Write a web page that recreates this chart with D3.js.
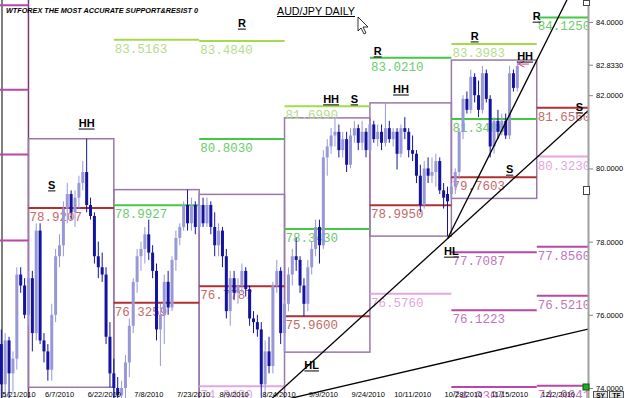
<!DOCTYPE html>
<html>
<head>
<meta charset="utf-8">
<script src="https://cdn.jsdelivr.net/npm/d3@7"></script>
<style>
body { margin: 0; background: #fff; }
svg { display: block; }
</style>
</head>
<body>
<div id="content"></div>
<script>
// AUD/JPY daily candles, one per trading day from 5/21/2010
const opens = [75.2,74.1,75.3,74.4,74.8,77.1,76.8,76.0,77.0,75.5,
  78.3,75.3,75.0,74.5,76.0,77.6,77.9,78.9,79.3,78.8,
  79.2,79.6,79.9,79.0,78.7,77.6,77.3,77.1,75.4,74.4,
  74.0,73.8,74.0,74.7,75.7,76.9,77.6,77.8,78.2,77.7,
  77.2,75.6,76.0,76.9,76.2,77.5,78.1,78.4,79.0,78.5,
  79.0,78.4,79.0,78.5,79.0,78.4,77.9,78.3,77.6,76.1,
  77.0,76.6,76.8,77.2,76.7,75.9,75.8,75.6,74.1,75.0,
  74.6,76.8,77.2,75.5,76.3,77.1,77.6,77.5,76.8,76.3,
  77.3,77.8,78.4,77.9,80.3,80.6,80.9,81.0,80.5,80.8,
  80.1,80.9,81.1,80.7,81.0,80.5,81.2,80.8,81.0,80.7,
  81.1,80.8,81.0,80.4,81.1,81.0,80.5,80.4,79.8,79.0,
  80.0,79.8,79.9,80.2,79.4,79.3,79.3,79.5,79.9,81.0,
  81.9,81.6,82.5,82.0,81.6,82.6,81.9,80.6,81.3,81.0,
  81.3,80.9,82.6,82.2];
const highs = [75.6,75.5,75.4,75.0,77.3,77.3,77.0,77.2,77.2,78.5,
  78.5,75.5,75.2,76.3,77.8,78.2,79.1,79.6,79.4,79.4,
  79.8,80.2,80.81,79.2,78.8,78.0,77.7,77.3,75.8,74.8,
  74.3,74.2,74.9,75.9,77.0,77.8,78.0,78.4,78.6,77.9,
  77.4,76.3,77.1,77.2,77.6,78.3,78.5,79.1,79.42,79.2,
  79.1,79.29,79.2,79.2,79.1,78.8,78.5,78.4,77.8,77.2,
  77.2,77.0,77.4,77.3,76.8,76.1,76.0,75.8,75.3,75.4,
  76.9,77.5,77.3,76.4,77.3,77.8,78.1,77.6,77.0,77.5,
  78.0,78.6,78.6,80.5,80.8,81.1,81.38,81.2,81.0,81.0,
  81.1,81.3,81.2,81.3,81.1,81.3,81.3,81.2,81.2,81.79,
  81.3,81.1,81.1,81.2,81.4,81.1,80.9,80.5,80.1,80.2,
  80.3,80.3,80.4,80.3,79.6,79.5,79.6,80.0,81.1,82.0,
  82.1,82.7,82.6,82.4,82.8,82.7,82.0,81.4,81.6,81.5,
  81.5,82.8,82.7,82.96];
const lows = [73.6,73.6,72.5,73.9,74.5,76.6,75.9,75.7,75.0,75.3,
  75.2,74.7,74.2,74.2,75.8,77.3,77.6,78.5,78.6,78.4,
  78.9,79.4,78.8,78.6,77.4,77.0,76.9,75.2,74.02,73.6,
  73.5,73.4,73.7,74.3,75.5,76.6,77.2,77.4,77.5,77.0,
  75.3,74.6,75.2,76.0,76.1,77.2,77.9,78.3,78.3,78.3,
  78.2,78.3,78.4,78.4,78.2,77.6,77.6,77.3,75.9,75.7,
  76.4,76.3,76.6,76.5,75.7,75.5,75.4,73.6,73.7,74.4,
  74.4,76.6,75.2,74.98,76.1,76.8,77.2,76.6,75.96,76.1,
  77.1,77.6,77.4,77.8,79.8,80.4,80.6,80.3,80.3,79.9,
  80.0,80.7,80.5,80.5,80.3,80.4,80.7,80.6,80.5,80.6,
  80.7,80.6,79.97,80.3,80.8,80.3,80.2,79.6,78.8,78.9,
  79.6,79.6,79.5,79.3,78.9,78.15,79.18,79.3,79.7,80.8,
  81.5,81.5,81.8,81.4,81.5,81.8,80.3,80.4,80.8,80.9,
  80.8,80.8,82.1,82.1];
const closes = [74.1,75.3,74.4,74.8,77.1,76.8,76.0,77.0,75.5,78.3,
  75.3,75.0,74.5,76.0,77.6,77.9,78.9,79.3,78.8,79.2,
  79.6,79.9,79.0,78.7,77.6,77.3,77.1,75.4,74.4,74.0,
  73.8,74.0,74.7,75.7,76.9,77.6,77.8,78.2,77.7,77.2,
  75.6,76.0,76.9,76.2,77.5,78.1,78.4,79.0,78.5,79.0,
  78.4,79.0,78.5,79.0,78.4,77.9,78.3,77.6,76.1,77.0,
  76.6,76.8,77.2,76.7,75.9,75.8,75.6,74.1,75.0,74.6,
  76.8,77.2,75.5,76.3,77.1,77.6,77.5,76.8,76.3,77.3,
  77.8,78.4,77.9,80.3,80.6,80.9,81.0,80.5,80.8,80.1,
  80.9,81.1,80.7,81.0,80.5,81.2,80.8,81.0,80.7,81.1,
  80.8,81.0,80.4,81.1,81.0,80.5,80.4,79.8,79.0,80.0,
  79.8,79.9,80.2,79.4,79.2,79.1,79.5,79.9,81.0,81.9,
  81.6,82.5,82.0,81.6,82.6,81.9,80.6,81.3,81.0,81.3,
  80.9,82.6,82.2,82.8];
const firstCandle = "5/21/2010";

// monthly segments (support / resistance periods)
const segStarts = ["5/3/2010","6/1/2010","7/1/2010","8/2/2010","9/1/2010","10/1/2010","11/1/2010","12/1/2010"];
const boxSegs = ["6/1/2010","7/1/2010","8/2/2010","9/1/2010","10/1/2010","11/1/2010"];

// level lines
const levelSeg = ["5/3/2010","5/3/2010","5/3/2010","5/3/2010",
  "6/1/2010",
  "7/1/2010","7/1/2010","7/1/2010",
  "8/2/2010","8/2/2010","8/2/2010","8/2/2010",
  "9/1/2010","9/1/2010","9/1/2010",
  "10/1/2010","10/1/2010","10/1/2010",
  "11/1/2010","11/1/2010","11/1/2010","11/1/2010","11/1/2010","11/1/2010",
  "12/1/2010","12/1/2010","12/1/2010","12/1/2010","12/1/2010","12/1/2010"];
const levelVal = [84.4600,82.1500,80.3800,78.0300,
  78.9207,
  83.5163,78.9927,76.3259,
  83.4840,80.8030,76.7787,74.0480,
  81.6990,78.3430,75.9600,
  83.0210,78.9950,76.5760,
  83.3983,81.3486,79.7603,77.7087,76.1223,74.0307,
  84.1250,81.6560,80.3230,77.8560,76.5210,74.0641];
const levelKind = ["mag","mag","mag","mag",
  "red",
  "lime","green","red",
  "lime","green","red","pink",
  "lime","green","red",
  "green","red","pink",
  "lime","green","red","mag","mag","mag",
  "green","red","pink","mag","mag","mag"];
const kindLine = {lime: "#a2dc4a", green: "#44c844", red: "#b03030", pink: "#e4a6e4", mag: "#b848a8"};
const kindText = {lime: "#b6dc8e", green: "#6ccc6c", red: "#c46a6a", pink: "#e0a8e0", mag: "#bc78bc"};

// trend lines (two anchors each)
const trendFrom = [["8/31/2010", 73.93], ["10/29/2010", 78.08], ["9/20/2010", 74.00]];
const trendTo   = [["10/29/2010", 78.08], ["11/22/2010", 81.47], ["12/17/2010", 75.58]];
const trendLeft = [true, false, true];

// swing marks
const markText  = ["HH","S","R","HH","S","HL","R","HH","HL","R","HH","S","R","S"];
const markDate  = ["6/22/2010","6/9/2010","8/17/2010","9/17/2010","9/27/2010","9/10/2010","10/5/2010",
  "10/13/2010","11/1/2010","11/9/2010","11/26/2010","11/22/2010","12/1/2010","12/16/2010"];
const markPrice = [81.13,79.44,83.86,81.79,81.79,74.52,83.10,82.06,77.63,83.51,82.96,79.87,84.05,81.57];

// axes
const priceTicks = [84, 82.833, 82, 80, 78, 76, 74];
const dateTicks = ["5/21/2010","6/7/2010","6/22/2010","7/8/2010","7/23/2010","8/9/2010","8/24/2010",
  "9/9/2010","9/24/2010","10/11/2010","10/28/2010","11/15/2010","12/2/2010"];

// trading days (weekdays)
const days = [];
for (let d = new Date(2010, 4, 3); days.length < 200; d.setDate(d.getDate() + 1)) {
  const wd = d.getDay();
  if (wd === 0 || wd === 6) continue;
  days.push(`${d.getMonth() + 1}/${d.getDate()}/${d.getFullYear()}`);
}
const di = s => days.indexOf(s);
const c0 = di(firstCandle);

const w = 625, h = 398;
const plotR = 588;

const x = d3.scaleLinear().domain([c0, c0 + 1]).range([1.3, 5.18]);
const y = d3.scaleLinear().domain([74, 84]).range([388, 22]);

const svg = d3.select("#content").append("svg")
  .attr("width", w).attr("height", h);

svg.append("defs").append("clipPath").attr("id", "plot")
  .append("rect").attr("x", 0).attr("y", 0).attr("width", plotR).attr("height", h);

const g = svg.append("g").attr("clip-path", "url(#plot)");

const candles = opens.map((o, i) => ({i: c0 + i, o, h: highs[i], l: lows[i], c: closes[i]}));

// segment x range
const segX0 = s => x(di(s));
const segX1 = s => {
  const k = segStarts.indexOf(s);
  return k < segStarts.length - 1 ? x(di(segStarts[k + 1])) : plotR;
};

// left marker line
g.append("line")
  .attr("x1", 2).attr("x2", 2).attr("y1", 0).attr("y2", h)
  .attr("stroke", "#000").attr("stroke-width", 1);
g.append("line")
  .attr("x1", segX0("6/1/2010")).attr("x2", segX0("6/1/2010")).attr("y1", 0).attr("y2", h)
  .attr("stroke", "#7a3a7a").attr("stroke-width", 1.5);

// monthly high/low boxes
boxSegs.forEach(s => {
  const a = di(s), b = di(segStarts[segStarts.indexOf(s) + 1]);
  const inside = candles.filter(d => d.i >= a && d.i < b);
  const hi = d3.max(inside, d => d.h), lo = d3.min(inside, d => d.l);
  g.append("rect")
    .attr("x", segX0(s)).attr("y", y(hi))
    .attr("width", segX1(s) - segX0(s)).attr("height", y(lo) - y(hi))
    .attr("fill", "none").attr("stroke", "#9a78aa").attr("stroke-width", 1.5);
});

// levels
const levels = levelVal.map((v, i) => ({v, s: levelSeg[i], k: levelKind[i]}));
g.selectAll("line.lvl").data(levels).enter().append("line")
  .attr("class", "lvl")
  .attr("x1", d => segX0(d.s)).attr("x2", d => segX1(d.s))
  .attr("y1", d => y(d.v)).attr("y2", d => y(d.v))
  .attr("stroke", d => kindLine[d.k]).attr("stroke-width", 2);
// labels only where the period starts on screen
g.selectAll("text.lvl").data(levels.filter(d => segX0(d.s) >= 0)).enter().append("text")
  .attr("class", "lvl")
  .attr("x", d => segX0(d.s) + 1).attr("y", d => y(d.v) + 13)
  .attr("font-family", "Liberation Mono, DejaVu Sans Mono, monospace")
  .attr("font-size", 12.5)
  .attr("fill", d => kindText[d.k])
  .text(d => d.v.toFixed(4));

// candles
const bull = "#9898d8", bear = "#1414a0";
g.selectAll("line.wick").data(candles).enter().append("line")
  .attr("class", "wick")
  .attr("x1", d => x(d.i)).attr("x2", d => x(d.i))
  .attr("y1", d => y(d.h)).attr("y2", d => y(d.l))
  .attr("stroke", d => d.c >= d.o ? bull : bear).attr("stroke-width", 1);
g.selectAll("rect.body").data(candles).enter().append("rect")
  .attr("class", "body")
  .attr("x", d => x(d.i) - 1.5).attr("width", 3)
  .attr("y", d => y(Math.max(d.o, d.c)))
  .attr("height", d => Math.max(1, Math.abs(y(d.o) - y(d.c))))
  .attr("fill", d => d.c >= d.o ? bull : bear);

// trend lines
trendFrom.forEach((p, k) => {
  const i1 = di(p[0]), i2 = di(trendTo[k][0]);
  const v1 = p[1], v2 = trendTo[k][1];
  const slope = (v2 - v1) / (i2 - i1);
  const a = trendLeft[k] ? i1 - 60 : i1;
  const b = c0 + 170;
  g.append("line")
    .attr("x1", x(a)).attr("y1", y(v1 + slope * (a - i1)))
    .attr("x2", x(b)).attr("y2", y(v1 + slope * (b - i1)))
    .attr("stroke", "#000").attr("stroke-width", 1.3);
});

// arrow near last high
const ax0 = x(di("11/24/2010")) + 1, ax1 = x(di("11/29/2010")), ay = y(82.85);
g.append("path")
  .attr("d", `M${ax1},${ay}L${ax0},${ay}M${ax0 + 6},${ay - 3}L${ax0},${ay}L${ax0 + 6},${ay + 3}`)
  .attr("fill", "none").attr("stroke", "#c8507a").attr("stroke-width", 1);

// swing marks
markText.forEach((t, k) => {
  const cx = x(di(markDate[k])), by = y(markPrice[k]);
  const tx = g.append("text")
    .attr("x", cx).attr("y", by)
    .attr("text-anchor", "middle")
    .attr("font-family", "Liberation Sans, Arial, sans-serif")
    .attr("font-size", 11).attr("font-weight", "bold")
    .attr("fill", "#000").text(t);
  const tw = tx.node().getComputedTextLength();
  g.append("line")
    .attr("x1", cx - tw / 2).attr("x2", cx + tw / 2)
    .attr("y1", by + 2).attr("y2", by + 2)
    .attr("stroke", "#000").attr("stroke-width", 1);
});

// right price scale
svg.append("line")
  .attr("x1", plotR + 0.5).attr("x2", plotR + 0.5).attr("y1", 0).attr("y2", h)
  .attr("stroke", "#a0a0a0").attr("stroke-width", 2);
const axis = svg.append("g")
  .attr("transform", `translate(${plotR + 1},0)`)
  .call(d3.axisRight(y).tickValues(priceTicks).tickFormat(d => d.toFixed(4)).tickSize(4).tickPadding(3));
axis.select(".domain").remove();
axis.selectAll("line").attr("stroke", "#888");
axis.selectAll("text")
  .attr("font-family", "Liberation Sans, Arial, sans-serif")
  .attr("font-size", 7.5).attr("fill", "#000");

// date labels
svg.selectAll("text.date").data(dateTicks).enter().append("text")
  .attr("class", "date")
  .attr("x", d => x(di(d)) + 1).attr("y", 397)
  .attr("font-family", "Liberation Sans, Arial, sans-serif")
  .attr("font-size", 7.5).attr("fill", "#000")
  .text(d => d);

// titles
svg.append("text")
  .attr("x", 6).attr("y", 12.5)
  .attr("font-family", "Liberation Sans, Arial, sans-serif")
  .attr("font-size", 8).attr("font-weight", "bold").attr("font-style", "italic")
  .attr("textLength", 192).attr("lengthAdjust", "spacingAndGlyphs")
  .text("WTFOREX THE MOST ACCURATE SUPPORT&RESIST 0");
svg.append("text")
  .attr("x", 277).attr("y", 14.5)
  .attr("font-family", "Liberation Sans, Arial, sans-serif")
  .attr("font-size", 11)
  .attr("textLength", 78).attr("lengthAdjust", "spacingAndGlyphs")
  .text("AUD/JPY DAILY");
svg.append("line")
  .attr("x1", 277).attr("x2", 355).attr("y1", 16.5).attr("y2", 16.5)
  .attr("stroke", "#000").attr("stroke-width", 1);

// mouse cursor
svg.append("path")
  .attr("d", "M358,17L358,31L361,28L364,34L366,33L363,27L368,27Z")
  .attr("fill", "#fff").attr("stroke", "#000").attr("stroke-width", 0.8);

// small terminal widgets
svg.append("rect").attr("x", 583.5).attr("y", 0.5).attr("width", 6).attr("height", 5)
  .attr("fill", "#fff").attr("stroke", "#444");
svg.append("rect").attr("x", 583.5).attr("y", 186.5).attr("width", 6).attr("height", 8)
  .attr("fill", "#fff").attr("stroke", "#444");
svg.append("rect").attr("x", 583).attr("y", 384).attr("width", 6).attr("height", 6)
  .attr("fill", "#22aa22").attr("stroke", "#0a5a0a");
[["SY", 593], ["TF", 609]].forEach(([t, bx]) => {
  svg.append("rect").attr("x", bx + 0.5).attr("y", 391.5).attr("width", 14).attr("height", 6.5)
    .attr("fill", "#e4e4e4").attr("stroke", "#555");
  svg.append("text").attr("x", bx + 7.5).attr("y", 397.5).attr("text-anchor", "middle")
    .attr("font-family", "Liberation Sans, Arial, sans-serif").attr("font-size", 6.5)
    .attr("font-weight", "bold").text(t);
});
</script>
</body>
</html>
